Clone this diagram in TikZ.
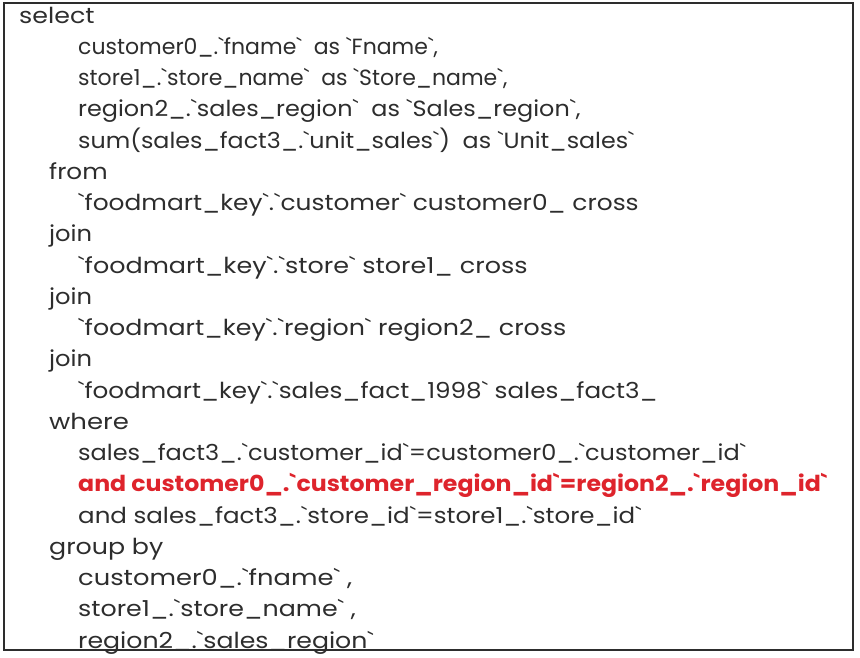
\documentclass[tikz,border=0pt]{standalone}
\usepackage{fontspec}
\newfontfamily\sqlfont{Poppins}
\newcommand\bq{\symbol{"60}}
\definecolor{sqlgray}{RGB}{45,45,45}
\definecolor{sqlred}{RGB}{222,36,44}
\tikzset{
  sqlline/.style={anchor=base west, inner sep=0pt, text=sqlgray,
    font=\sqlfont\fontsize{22}{26}\selectfont\addfontfeature{FakeStretch=#1}},
  sqlline/.default=1.12,
  hiline/.style={sqlline, text=sqlred,
    font=\sqlfont\bfseries\fontsize{22}{26}\selectfont\addfontfeature{FakeStretch=#1}}
}
\begin{document}
\begin{tikzpicture}[x=1pt,y=-1pt]
  \useasboundingbox (0,0) rectangle (860,657);
  \draw[line width=1.5pt, sqlgray] (4,3) rectangle (853,650);
  % select part
  \node[sqlline=1.15] (l1) at (19,23) {select};
  \node[sqlline=1.0] (l2) at (78,54.25) {customer0\_.\bq fname\bq\ \ as \bq Fname\bq,};
  \node[sqlline=1.0] (l3) at (78,85.5) {store1\_.\bq store\_name\bq\ \ as \bq Store\_name\bq,};
  \node[sqlline=1.086] (l4) at (78,116.75) {region2\_.\bq sales\_region\bq\ \ as \bq Sales\_region\bq,};
  \node[sqlline=1.08] (l5) at (78,148) {sum(sales\_fact3\_.\bq unit\_sales\bq)\ \ as \bq Unit\_sales\bq};
  % from part
  \node[sqlline=1.12] (l6) at (49,179.25) {from};
  \node[sqlline=1.13] (l7) at (78,210.5) {\bq foodmart\_key\bq.\bq customer\bq\ customer0\_ cross};
  \node[sqlline=1.1] (l8) at (49,241.75) {join};
  \node[sqlline=1.155] (l9) at (78,273) {\bq foodmart\_key\bq.\bq store\bq\ store1\_ cross};
  \node[sqlline=1.1] (l10) at (49,304.25) {join};
  \node[sqlline=1.15] (l11) at (78,335.5) {\bq foodmart\_key\bq.\bq region\bq\ region2\_ cross};
  \node[sqlline=1.1] (l12) at (49,366.75) {join};
  \node[sqlline=1.12] (l13) at (78,398) {\bq foodmart\_key\bq.\bq sales\_fact\_1998\bq\ sales\_fact3\_};
  % where part
  \node[sqlline=1.18] (l14) at (49,429.25) {where};
  \node[sqlline=1.09] (l15) at (78,460.5) {sales\_fact3\_.\bq customer\_id\bq=customer0\_.\bq customer\_id\bq};
  \node[hiline=1.075] (l16) at (78,491.75) {and customer0\_.\bq customer\_region\_id\bq=region2\_.\bq region\_id\bq};
  \node[sqlline=1.115] (l17) at (78,523) {and sales\_fact3\_.\bq store\_id\bq=store1\_.\bq store\_id\bq};
  % group by part
  \node[sqlline=1.15] (l18) at (49,554.25) {group by};
  \node[sqlline=1.17] (l19) at (78,585.5) {customer0\_.\bq fname\bq\ ,};
  \node[sqlline=1.15] (l20) at (78,616.75) {store1\_.\bq store\_name\bq\ ,};
  \node[sqlline=1.145] (l21) at (78,648) {region2\_.\bq sales\_region\bq};
\end{tikzpicture}
\end{document}
